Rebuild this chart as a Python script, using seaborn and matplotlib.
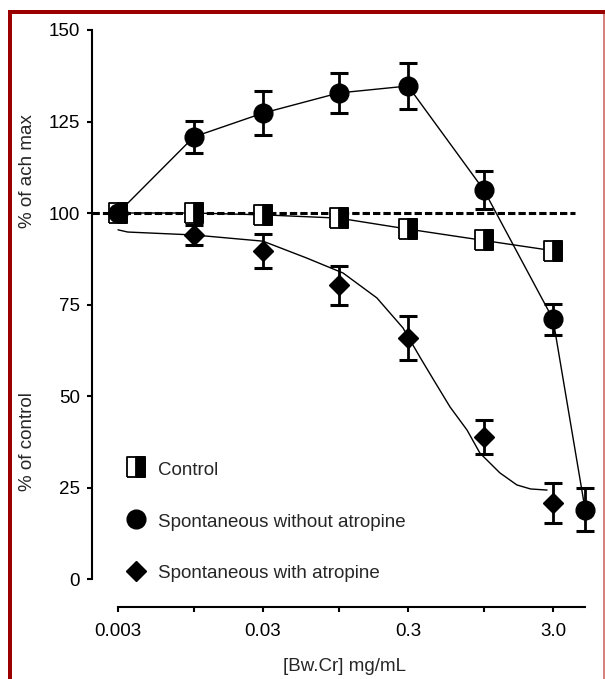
import numpy as np
import matplotlib
matplotlib.use("Agg")
import matplotlib.pyplot as plt
import seaborn as sns
from matplotlib.lines import Line2D
from matplotlib.patches import Rectangle
from matplotlib.legend_handler import HandlerTuple
from matplotlib.ticker import NullLocator

# ---------------- data ----------------
conc = [0.003, 0.01, 0.03, 0.1, 0.3, 1.0, 3.0]
conc_spont = [0.003, 0.01, 0.03, 0.1, 0.3, 1.0, 3.0, 5.0]

control = [100, 100, 99.5, 98.6, 95.6, 92.5, 89.7]

spont_no_atropine = [100, 120.8, 127.3, 132.8, 134.7, 106.3, 71.0, 18.9]
spont_no_atropine_err = [0, 4.4, 5.9, 5.5, 6.3, 5.2, 4.2, 5.9]

spont_atropine = [100, 94.0, 89.6, 80.3, 65.8, 38.8, 20.8]
spont_atropine_err = [0, 2.7, 4.7, 5.3, 6.0, 4.7, 5.4]

# fitted curve for "with atropine"
fit_x = [0.003, 0.0035, 0.01, 0.03, 0.060, 0.107, 0.183, 0.277, 0.363, 0.446,
         0.585, 0.766, 0.94, 1.29, 1.69, 2.1, 2.73]
fit_y = [95.4, 94.8, 94.0, 92.3, 87.7, 83.6, 76.8, 68.6, 60.6, 54.7,
         47.0, 40.7, 34.4, 29.0, 25.7, 24.6, 24.3]

reference_level = 100

x_ticks = [0.003, 0.01, 0.03, 0.1, 0.3, 1.0, 3.0]
x_ticklabels = ["0.003", "", "0.03", "", "0.3", "", "3.0"]
y_ticks = [0, 25, 50, 75, 100, 125, 150]

labels = ["Control", "Spontaneous without atropine", "Spontaneous with atropine"]

# ---------------- style ----------------
sns.set_style("ticks")
plt.rcParams["font.family"] = ["Liberation Sans", "DejaVu Sans"]
FS = 13.5

W, H = 605, 679
fig = plt.figure(figsize=(W / 100, H / 100), dpi=100)
ax = fig.add_axes([92 / W, 1 - 607 / H, (598 - 92) / W, (607 - 25) / H])
ax.set_xscale("log")

ppu = (579 - 30) / 150.0
ax.set_ylim(-(607 - 579) / ppu, 150 + (30 - 25) / ppu)
dec = 145.0
ax.set_xlim(0.003 / 10 ** ((118 - 92) / dec), 0.003 * 10 ** ((598 - 118) / dec))

# connecting lines
sns.lineplot(x=conc, y=control, ax=ax, color="black", lw=1.0,
             estimator=None, sort=False, zorder=2)
sns.lineplot(x=conc_spont, y=spont_no_atropine, ax=ax, color="black", lw=1.0,
             estimator=None, sort=False, zorder=2)
sns.lineplot(x=fit_x, y=fit_y, ax=ax, color="black", lw=1.0,
             estimator=None, sort=False, zorder=2)

# dashed 100 % line
ax.axhline(reference_level, xmin=0, xmax=(575 - 92) / (598 - 92), color="black",
           lw=2.2, dashes=(2.4, 1.0), zorder=2.5)

# custom markers
rect = [(-0.42, -0.5), (0.42, -0.5), (0.42, 0.5), (-0.42, 0.5), (-0.42, -0.5)]
half = [(0, -0.5), (0.42, -0.5), (0.42, 0.5), (0, 0.5), (0, -0.5)]

ax.plot(conc, control, ls="none", marker=rect, ms=15, mfc="white", mec="black",
        mew=1.3, zorder=3)
ax.plot(conc, control, ls="none", marker=half, ms=15, mfc="black", mec="black",
        mew=1.3, zorder=3.1)

ekw = dict(fmt="none", ecolor="black", elinewidth=2.0, capsize=6.2, capthick=2.2)
ax.errorbar(conc_spont, spont_no_atropine, yerr=spont_no_atropine_err, zorder=4, **ekw)
ax.errorbar(conc, spont_atropine, yerr=spont_atropine_err, zorder=4, **ekw)
ax.plot(conc_spont, spont_no_atropine, ls="none", marker="o", ms=13.5,
        color="black", zorder=5)
ax.plot(conc, spont_atropine, ls="none", marker="D", ms=10.5,
        color="black", zorder=5)

# axes styling
sns.despine(ax=ax)
ax.spines["left"].set_bounds(0, 150)
ax.spines["bottom"].set_bounds(0.003, 5.0)
for s in ("left", "bottom"):
    ax.spines[s].set_linewidth(1.5)
    ax.spines[s].set_color("black")
ax.set_yticks(y_ticks)
ax.set_xticks(x_ticks)
ax.set_xticklabels(x_ticklabels)
ax.xaxis.set_minor_locator(NullLocator())
ax.tick_params(axis="both", direction="out", length=3.8, width=1.5,
               color="black", labelsize=FS, labelcolor="black")
ax.tick_params(axis="y", pad=5.0)
ax.tick_params(axis="x", pad=8)
ax.set_xlabel("[Bw.Cr] mg/mL", fontsize=FS, labelpad=13)

fig.text(28 / W, 1 - 171 / H, "% of ach max", rotation=90, ha="center",
         va="center", fontsize=FS)
fig.text(28 / W, 1 - 442 / H, "% of control", rotation=90, ha="center",
         va="center", fontsize=FS)

# legend
h_ctrl = (Line2D([], [], ls="none", marker=rect, ms=15, mfc="white", mec="black", mew=1.3),
          Line2D([], [], ls="none", marker=half, ms=15, mfc="black", mec="black", mew=1.3))
h_circ = Line2D([], [], ls="none", marker="o", ms=13.5, color="black")
h_diam = Line2D([], [], ls="none", marker="D", ms=10.5, color="black")
ax.legend([h_ctrl, h_circ, h_diam], labels,
          handler_map={tuple: HandlerTuple(ndivide=1, pad=0)},
          loc="upper left", bbox_to_anchor=(127 / W, 1 - 460 / H),
          bbox_transform=fig.transFigure, frameon=False, fontsize=FS,
          handlelength=0.95, handleheight=1.0, handletextpad=0.7,
          labelspacing=1.76, borderpad=0, borderaxespad=0)

# figure border
red = "#9b0000"
fig.add_artist(Rectangle((8 / W, 0), 4 / W, (H - 10) / H, transform=fig.transFigure,
                         facecolor=red, edgecolor="none"))
fig.add_artist(Rectangle((8 / W, 1 - 14 / H), (W - 8) / W, 4 / H, transform=fig.transFigure,
                         facecolor=red, edgecolor="none"))
fig.add_artist(Rectangle((603 / W, 0), 1.5 / W, (H - 14) / H, transform=fig.transFigure,
                         facecolor="#d88080", edgecolor="none"))

fig.savefig("out.png", dpi=100)
